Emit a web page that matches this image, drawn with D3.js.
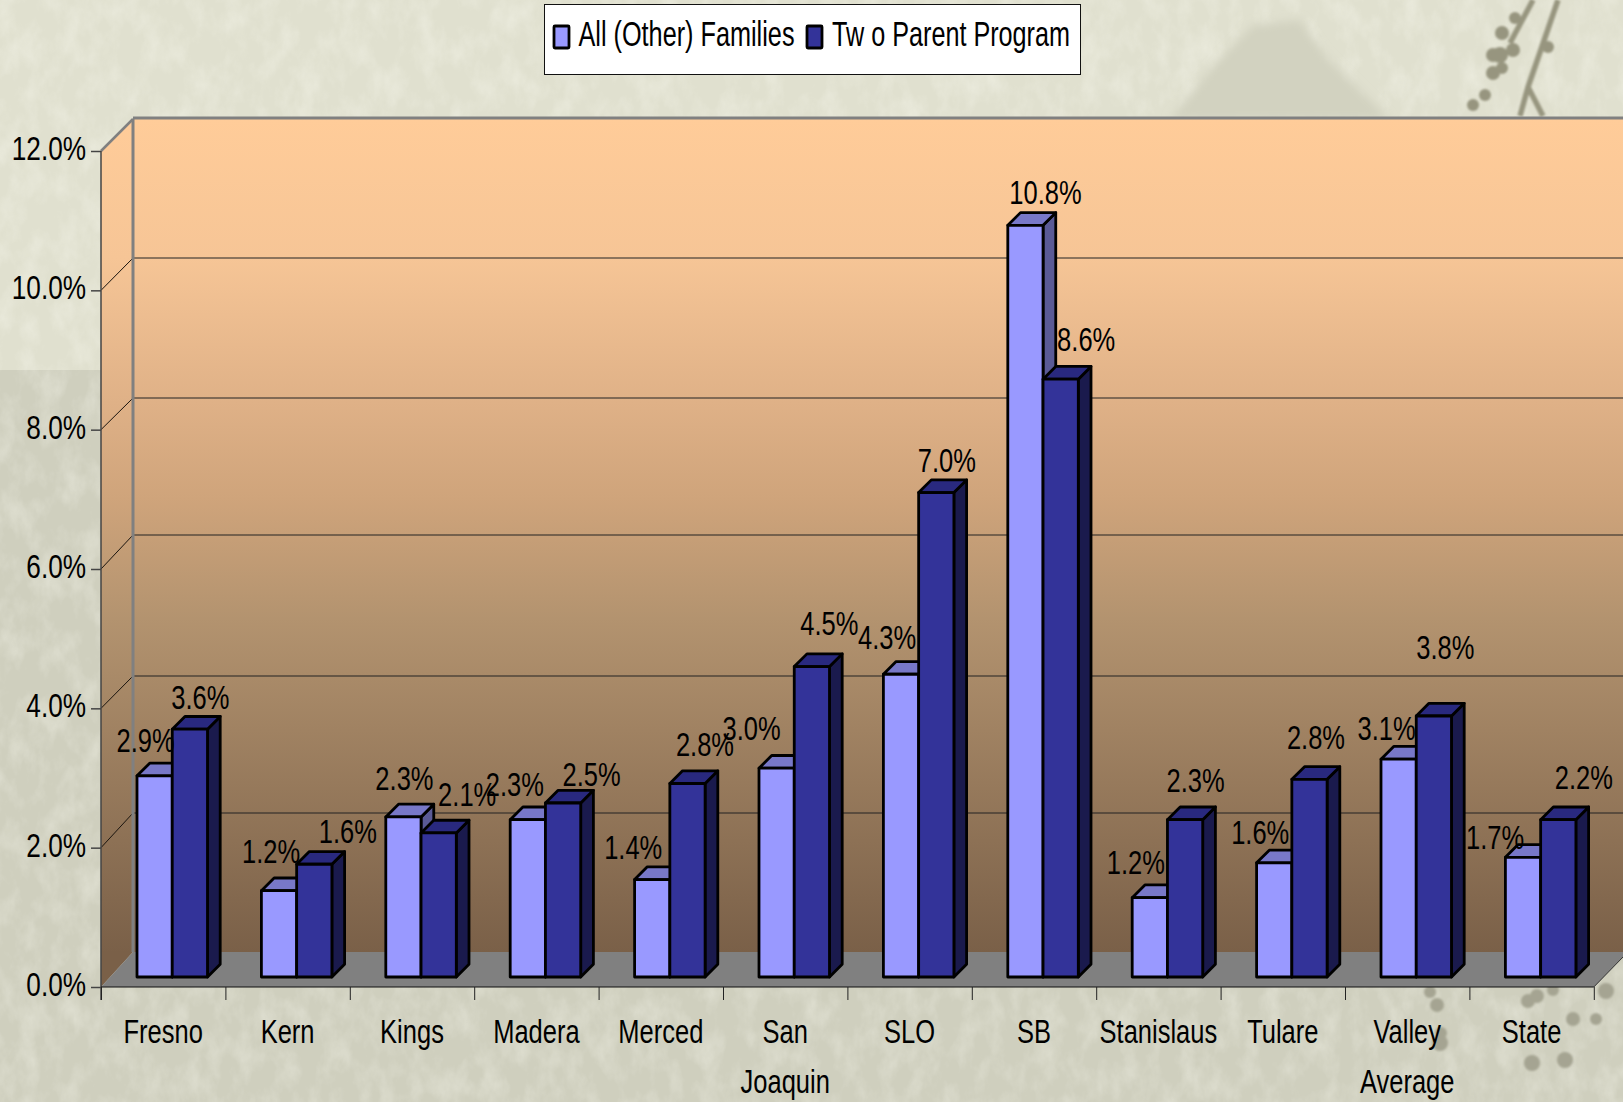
<!DOCTYPE html>
<html><head><meta charset="utf-8">
<script src="https://cdn.jsdelivr.net/npm/d3@7"></script>
<style>html,body{margin:0;padding:0;background:#dcdccb;overflow:hidden}svg{display:block}text{font-family:"Liberation Sans",Arial,sans-serif;fill:#000}</style>
</head><body><svg id="c" width="1623" height="1102"></svg>
<script>
// ---- data ----
const categories = ["Fresno","Kern","Kings","Madera","Merced","San Joaquin","SLO","SB","Stanislaus","Tulare","Valley Average","State"];
const allOther   = [2.89,1.24,2.30,2.26,1.40,3.00,4.35,10.80,1.14,1.64,3.13,1.72];
const twoParent  = [3.56,1.62,2.07,2.50,2.78,4.46,6.96,8.59,2.26,2.84,3.75,2.26];
const allLabels  = ["2.9%","1.2%","2.3%","2.3%","1.4%","3.0%","4.3%","10.8%","1.2%","1.6%","3.1%","1.7%"];
const twoLabels  = ["3.6%","1.6%","2.1%","2.5%","2.8%","4.5%","7.0%","8.6%","2.3%","2.8%","3.8%","2.2%"];
const yTicks     = [0,2,4,6,8,10,12];
const seriesNames = ["All (Other) Families","Tw o Parent Program"];

// ---- label nudges (layout only) ----
const allNudge = [[-9,-23.5],[-8,-27.5],[1,-27],[-13,-24],[-19,-20.5],[-25,-28],[-14,-25],[20,-21],[-14,-24],[-14,-19],[-12,-19],[-28,-8]];
const twoNudge = [[10.5,-20],[33.5,-21],[28.5,-27],[28.5,-17],[17.5,-28],[17.5,-32],[10.5,-21],[25.5,-28],[10.5,-28],[6.5,-30],[11.5,-57],[25.5,-31]];

const svg = d3.select("#c");
const W = 1623, H = 1102;
const FS = 34, SX = 0.75;
const defs = svg.append("defs");

// ---- scales ----
const x0 = 101, x1 = 1593.8, depth = [32, -35];
const xBand = d3.scaleBand().domain(categories).range([x0, x1]);
const xInner = d3.scaleBand().domain([0,1]).range([36,106.5]);
const xEdges = d3.scaleLinear().domain([0,12]).range([x0,x1]);
const yFront = d3.scaleLinear().domain([0,12]).range([987,151]);
const yBack  = d3.scaleLinear().domain(yTicks).range([952,813,676,535,398,258,119]);
const yBar   = d3.scaleLinear().domain([0,12]).range([977,977-69.6*12]);
const barD = 12.7;

// ---- background ----
const tex = defs.append("filter").attr("id","tex").attr("x",0).attr("y",0).attr("width","100%").attr("height","100%");
tex.append("feTurbulence").attr("type","fractalNoise").attr("baseFrequency","0.05 0.03").attr("numOctaves",4).attr("seed",11);
tex.append("feColorMatrix").attr("type","matrix").attr("values","0 0 0 0 1  0 0 0 0 1  0 0 0 0 0.93  1.5 0 0 0 -0.6");
const blur = defs.append("filter").attr("id","soft"); blur.append("feGaussianBlur").attr("stdDeviation",1.2);
const blur2 = defs.append("filter").attr("id","softer"); blur2.append("feGaussianBlur").attr("stdDeviation",5);
const bg = svg.append("g");
bg.append("rect").attr("width",W).attr("height",H).attr("fill","#e0e0cf");
bg.append("rect").attr("y",370).attr("width",W).attr("height",H-370).attr("fill","#cfcfbe");
bg.append("rect").attr("width",W).attr("height",H).attr("filter","url(#tex)").attr("opacity",0.4);
bg.append("path").attr("d","M1170,120 L1210,70 L1253,25 L1300,20 L1325,55 L1360,90 L1390,120 Z").attr("fill","#d2d2c0").attr("filter","url(#softer)");
const deco = bg.append("g").attr("filter","url(#soft)");
deco.append("path").attr("d","M1558,0 L1528,87 L1520,116 M1528,87 L1543,116 M1533,0 L1510,43").attr("stroke","#97957f").attr("stroke-width",5.5).attr("fill","none");
const topDots = [[1502,33,7],[1515,18,6],[1493,55,7],[1513,50,7],[1493,73,7],[1502,68,6],[1485,95,6],[1473,105,6],[1548,47,6],[1500,55,8]];
const lowDots = [[1430,992,6],[1437,1005,7],[1440,1043,8],[1441,1033,6],[1528,1001,7],[1537,996,7],[1553,990,6],[1606,991,8],[1573,1019,7],[1596,1019,6],[1532,1063,8],[1565,1060,8]];
deco.selectAll("circle.t").data(topDots).join("circle").attr("cx",d=>d[0]).attr("cy",d=>d[1]).attr("r",d=>d[2]).attr("fill","#97957f");
deco.selectAll("circle.l").data(lowDots).join("circle").attr("cx",d=>d[0]).attr("cy",d=>d[1]).attr("r",d=>d[2]).attr("fill","#a5a492");

// ---- walls ----
const grad = defs.append("linearGradient").attr("id","wall").attr("gradientUnits","userSpaceOnUse").attr("x1",0).attr("x2",0).attr("y1",yBack(12)).attr("y2",yBack(0));
[[0,"#ffcc99"],[0.167,"#f6c596"],[0.34,"#dfb187"],[0.455,"#cfa47b"],[0.6,"#b3936f"],[1,"#7a6048"]].forEach(s=>grad.append("stop").attr("offset",s[0]).attr("stop-color",s[1]));
const plot = svg.append("g");
plot.append("path").attr("d",`M${x0},${yFront(12)} L${x0+depth[0]},${yBack(12)} L${x0+depth[0]},${yBack(0)} L${x0},${yFront(0)} Z`).attr("fill","url(#wall)");
plot.append("rect").attr("x",x0+depth[0]).attr("y",yBack(12)).attr("width",W-x0-depth[0]).attr("height",yBack(0)-yBack(12)).attr("fill","url(#wall)");
plot.append("path").attr("d",`M${x0},${yFront(0)} L${x0+depth[0]},${yBack(0)} L${W},${yBack(0)} L${W},${yBack(0)+5} L${x1},${yFront(0)} Z`).attr("fill","#808080");

// gridlines on back and side wall
const g2 = yTicks.filter(d=>d>0 && d<12);
plot.selectAll("line.grid").data(g2).join("line").attr("x1",x0+depth[0]).attr("x2",W).attr("y1",d=>yBack(d)).attr("y2",d=>yBack(d)).attr("stroke","#222").attr("stroke-width",1);
plot.selectAll("line.side").data(g2).join("line").attr("x1",x0).attr("x2",x0+depth[0]).attr("y1",d=>yFront(d)).attr("y2",d=>yBack(d)).attr("stroke","#1a140e").attr("stroke-width",1);
plot.append("line").attr("x1",x0+depth[0]).attr("x2",x0+depth[0]).attr("y1",yBack(12)).attr("y2",yBack(0)).attr("stroke","#808080").attr("stroke-width",3);
plot.append("line").attr("x1",x0+depth[0]).attr("x2",W).attr("y1",yBack(12)-1).attr("y2",yBack(12)-1).attr("stroke","#808080").attr("stroke-width",3);
plot.append("line").attr("x1",x0).attr("x2",x0+depth[0]).attr("y1",yFront(12)).attr("y2",yBack(12)).attr("stroke","#808080").attr("stroke-width",2.5);
plot.append("line").attr("x1",x1).attr("x2",W).attr("y1",yFront(0)).attr("y2",yBack(0)+5).attr("stroke","#333").attr("stroke-width",1);

// ---- axes ----
const axL = svg.append("g").attr("transform",`translate(${x0},0)`)
  .call(d3.axisLeft(yFront).tickValues(yTicks).tickSize(10).tickFormat(d=>d3.format(".1f")(d)+"%"));
axL.select(".domain").attr("d",`M0,${yFront(12)} V${yFront(0)+13}`).attr("stroke","#444").attr("stroke-width",1.5);
axL.selectAll(".tick line").attr("stroke","#444").attr("stroke-width",1.5);
axL.selectAll(".tick text").attr("x",0).attr("dy",0).attr("fill","#000")
  .style("font-size",FS+"px").style("font-family",'"Liberation Sans",Arial,sans-serif')
  .attr("text-anchor","end").attr("transform",`translate(-15,8.5) scale(0.77,1)`);

const axB = svg.append("g").attr("transform",`translate(0,${yFront(0)})`)
  .call(d3.axisBottom(xEdges).tickValues(d3.range(0,13)).tickSize(13).tickFormat(""));
axB.select(".domain").attr("d",`M${x0},0 H${x1}`).attr("stroke","#111").attr("stroke-width",1.2);
axB.selectAll(".tick line").attr("stroke","#222").attr("stroke-width",1);

const catG = svg.append("g");
categories.forEach(c=>{
  const cx = xBand(c)+xBand.bandwidth()/2;
  const words = (c==="San Joaquin"||c==="Valley Average") ? c.split(" ") : [c];
  words.forEach((w,i)=>{
    catG.append("text").attr("transform",`translate(${cx},${1043+i*50}) scale(${SX},1)`)
      .attr("text-anchor","middle").style("font-size",FS+"px").text(w);
  });
});

// ---- bars ----
const colours = [
  {front:"#9999ff", top:"#7878c8", side:"#5a5a96"},
  {front:"#333399", top:"#29297f", side:"#1a1a4d"}
];
function bar(g, xl, w, v, col){
  const yT = yBar(v), yB = yBar(0);
  g.append("path").attr("d",`M${xl+w},${yB} L${xl+w+barD},${yB-barD} L${xl+w+barD},${yT-barD} L${xl+w},${yT} Z`).attr("fill",col.side);
  g.append("path").attr("d",`M${xl},${yT} L${xl+barD},${yT-barD} L${xl+w+barD},${yT-barD} L${xl+w},${yT} Z`).attr("fill",col.top);
  g.append("rect").attr("x",xl).attr("y",yT).attr("width",w).attr("height",yB-yT).attr("fill",col.front);
  g.selectAll("path,rect").attr("stroke","#000").attr("stroke-width",2.8).attr("stroke-linejoin","round");
}
const bars = svg.append("g");
categories.forEach((c,i)=>{
  const g = bars.append("g");
  const b1 = g.append("g"), b2 = g.append("g");
  bar(b1, xBand(c)+xInner(0), xInner.bandwidth(), allOther[i], colours[0]);
  bar(b2, xBand(c)+xInner(1), xInner.bandwidth(), twoParent[i], colours[1]);
});

// ---- data labels ----
const lab = svg.append("g");
function dataLabels(vals, strs, nudges, k){
  categories.forEach((c,i)=>{
    const cx = xBand(c)+xInner(k)+xInner.bandwidth()/2+nudges[i][0];
    const cy = yBar(vals[i])+nudges[i][1];
    lab.append("text").attr("transform",`translate(${cx},${cy}) scale(${SX},1)`)
      .attr("text-anchor","middle").style("font-size",FS+"px").text(strs[i]);
  });
}
dataLabels(allOther, allLabels, allNudge, 0);
dataLabels(twoParent, twoLabels, twoNudge, 1);

// ---- legend ----
const leg = svg.append("g");
leg.append("rect").attr("x",544.5).attr("y",4.5).attr("width",536).attr("height",70).attr("fill","#fff").attr("stroke","#111").attr("stroke-width",1);
[[554,578.5,216],[807,832,238]].forEach((p,i)=>{
  leg.append("rect").attr("x",p[0]).attr("y",26).attr("width",15).attr("height",22).attr("fill",colours[i].front).attr("stroke","#000").attr("stroke-width",2.8).attr("rx",1);
  leg.append("text").attr("x",p[1]).attr("y",46).attr("textLength",p[2]).attr("lengthAdjust","spacingAndGlyphs").style("font-size","35px").text(seriesNames[i]);
});
</script></body></html>
